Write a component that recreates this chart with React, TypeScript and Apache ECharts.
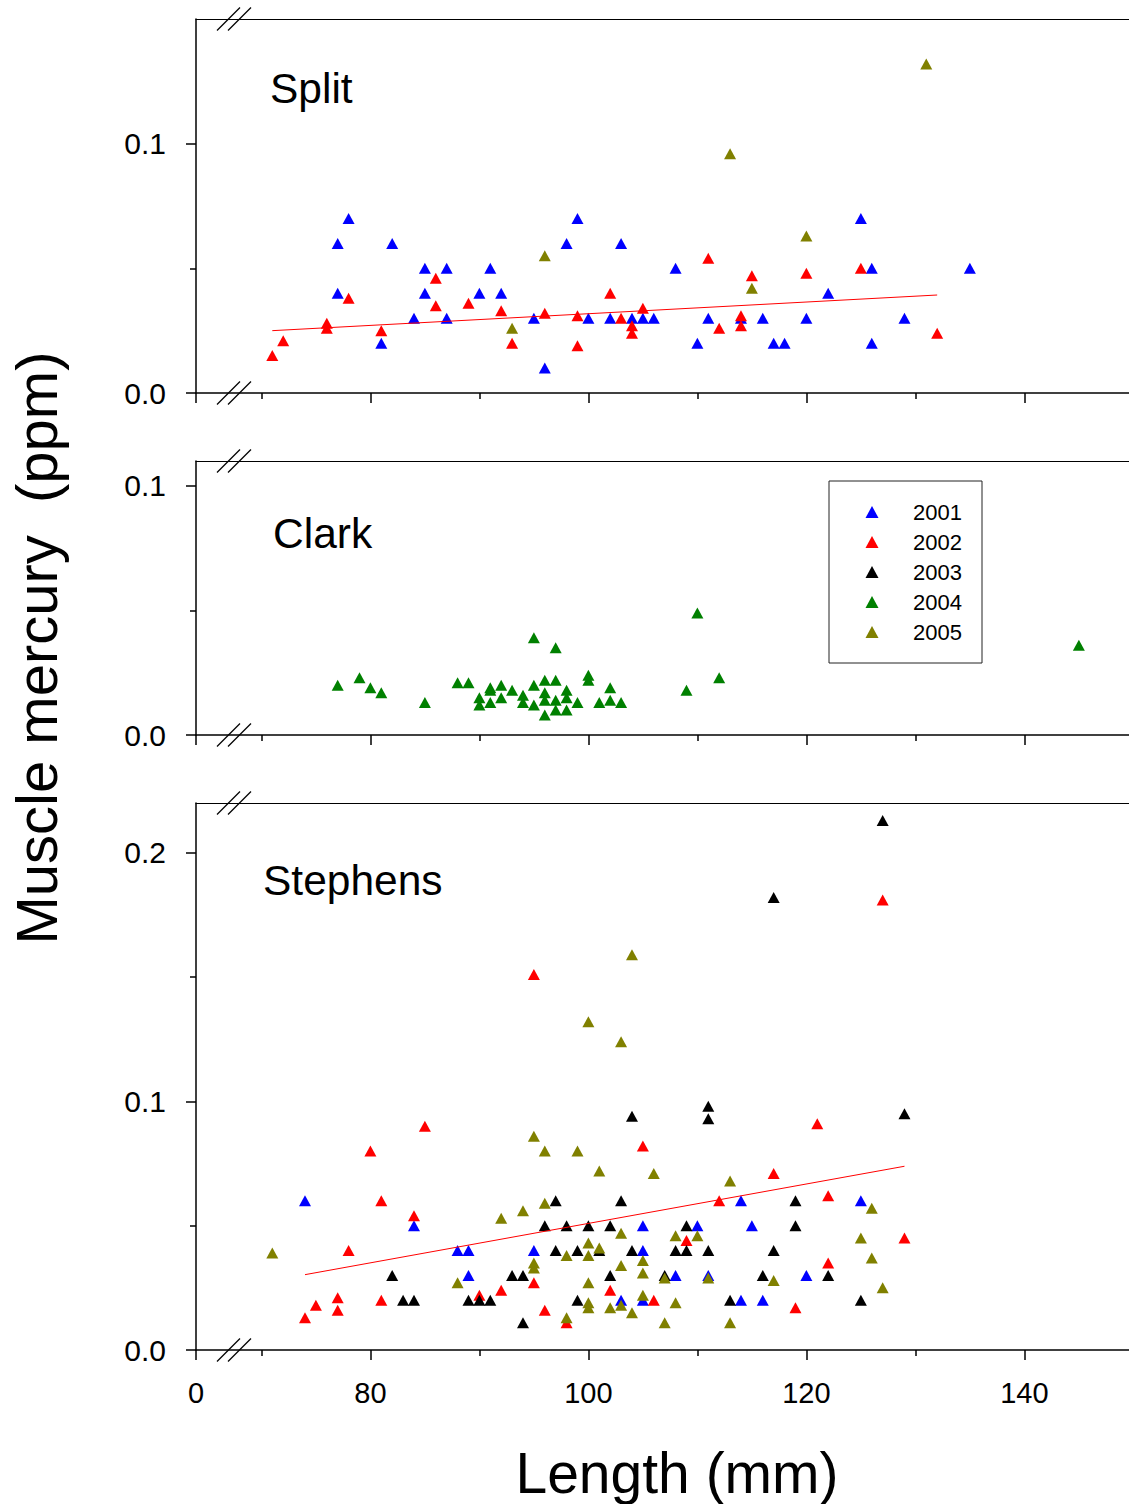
import React, { useEffect, useRef } from 'react';
import * as echarts from 'echarts';

const FONT = '"Liberation Sans", Arial, Helvetica, sans-serif';

const YEARS = ['2001', '2002', '2003', '2004', '2005'];
const YEAR_COLORS = ['#0000ff', '#ff0000', '#000000', '#008000', '#808000'];
const PANEL_NAMES = ['Split', 'Clark', 'Stephens'];

const X_MIN = 64;
const X_MAX = 149.6;
const X_MAJOR = [64, 80, 100, 120, 140];
const X_MINOR = [70, 90, 110, 130];
const X_LABELS = ['0', '80', '100', '120', '140'];

const Y_MAX = [0.15, 0.11, 0.22];
const Y_MAJOR = [[0, 0.1], [0, 0.1], [0, 0.1, 0.2]];
const Y_MINOR = [[0.05], [0.05], [0.05, 0.15]];

// ---- Split ----
const split2001 = [[77,0.06],[78,0.07],[77,0.04],[81,0.02],[82,0.06],[84,0.03],[85,0.05],[85,0.04],[87,0.05],[87,0.03],[90,0.04],[91,0.05],[92,0.04],[95,0.03],[96,0.01],[98,0.06],[99,0.07],[100,0.03],[102,0.03],[103,0.06],[104,0.03],[105,0.03],[106,0.03],[108,0.05],[110,0.02],[111,0.03],[114,0.03],[116,0.03],[117,0.02],[118,0.02],[120,0.03],[122,0.04],[125,0.07],[126,0.05],[126,0.02],[129,0.03],[135,0.05]];
const split2002 = [[71,0.015],[72,0.021],[76,0.028],[76,0.026],[78,0.038],[81,0.025],[86,0.046],[86,0.035],[89,0.036],[92,0.033],[93,0.02],[96,0.032],[99,0.031],[99,0.019],[102,0.04],[103,0.03],[104,0.027],[104,0.024],[105,0.034],[111,0.054],[112,0.026],[114,0.031],[114,0.027],[115,0.047],[120,0.048],[125,0.05],[132,0.024]];
const split2005 = [[93,0.026],[96,0.055],[113,0.096],[115,0.042],[120,0.063],[131,0.132]];
const splitFit = [[71,0.025],[132,0.0393]];

// ---- Clark ----
const clark2004 = [[77,0.02],[79,0.023],[80,0.019],[81,0.017],[85,0.013],[88,0.021],[89,0.021],[90,0.015],[90,0.012],[91,0.019],[91,0.018],[91,0.013],[92,0.02],[92,0.015],[93,0.018],[94,0.016],[94,0.013],[95,0.039],[95,0.02],[95,0.012],[96,0.022],[96,0.017],[96,0.014],[96,0.008],[97,0.035],[97,0.022],[97,0.014],[97,0.01],[98,0.018],[98,0.015],[98,0.01],[99,0.013],[100,0.024],[100,0.022],[101,0.013],[102,0.019],[102,0.014],[103,0.013],[109,0.018],[110,0.049],[112,0.023],[145,0.036]];

// ---- Stephens ----
const st2001 = [[74,0.06],[84,0.05],[88,0.04],[89,0.04],[89,0.03],[95,0.04],[103,0.02],[105,0.05],[105,0.04],[105,0.02],[108,0.03],[110,0.05],[111,0.03],[114,0.06],[114,0.02],[115,0.05],[116,0.02],[120,0.03],[125,0.06]];
const st2002 = [[74,0.013],[75,0.018],[77,0.021],[77,0.016],[78,0.04],[80,0.08],[81,0.06],[81,0.02],[84,0.054],[85,0.09],[90,0.022],[92,0.024],[95,0.151],[95,0.027],[96,0.016],[98,0.011],[102,0.024],[105,0.082],[106,0.02],[109,0.044],[112,0.06],[117,0.071],[119,0.017],[121,0.091],[122,0.062],[122,0.035],[127,0.181],[129,0.045]];
const st2003 = [[82,0.03],[83,0.02],[84,0.02],[89,0.02],[90,0.02],[91,0.02],[93,0.03],[94,0.03],[94,0.011],[96,0.05],[97,0.06],[97,0.04],[98,0.05],[99,0.04],[99,0.02],[100,0.05],[101,0.04],[102,0.05],[102,0.03],[103,0.06],[104,0.094],[104,0.04],[107,0.03],[108,0.04],[109,0.05],[109,0.04],[111,0.098],[111,0.093],[111,0.04],[113,0.02],[116,0.03],[117,0.182],[117,0.04],[119,0.06],[119,0.05],[122,0.03],[125,0.02],[127,0.213],[129,0.095]];
const st2005 = [[71,0.039],[88,0.027],[92,0.053],[94,0.056],[95,0.086],[95,0.035],[95,0.033],[96,0.08],[96,0.059],[98,0.038],[98,0.013],[99,0.08],[100,0.132],[100,0.043],[100,0.038],[100,0.027],[100,0.019],[100,0.017],[101,0.072],[101,0.041],[102,0.017],[103,0.124],[103,0.047],[103,0.034],[103,0.018],[104,0.159],[104,0.015],[105,0.036],[105,0.031],[105,0.022],[106,0.071],[107,0.029],[107,0.011],[108,0.046],[108,0.019],[110,0.046],[111,0.029],[113,0.068],[113,0.011],[117,0.028],[125,0.045],[126,0.057],[126,0.037],[127,0.025]];
const stephensFit = [[74,0.0303],[129,0.0739]];

const PANEL_SERIES: { year: string; data: number[][] }[][] = [
  [{ year: '2001', data: split2001 }, { year: '2002', data: split2002 }, { year: '2005', data: split2005 }],
  [{ year: '2004', data: clark2004 }],
  [{ year: '2001', data: st2001 }, { year: '2002', data: st2002 }, { year: '2003', data: st2003 }, { year: '2005', data: st2005 }],
];
const PANEL_FITS: (number[][] | null)[] = [splitFit, null, stephensFit];

const GRID_LEFT = 196;
const GRID_TOPS = [19, 461, 803];
const GRID_HEIGHTS = [374, 274, 547];

function buildOption() {
  const grid: any[] = [];
  const xAxis: any[] = [];
  const yAxis: any[] = [];
  const series: any[] = [];
  const graphic: any[] = [];

  PANEL_NAMES.forEach((name, i) => {
    grid.push({
      left: GRID_LEFT,
      right: 0,
      top: GRID_TOPS[i],
      height: GRID_HEIGHTS[i],
      containLabel: false,
      outerBoundsMode: 'none',
    });
    const isLast = i === PANEL_NAMES.length - 1;
    xAxis.push({
      type: 'value', gridIndex: i, position: 'bottom', min: X_MIN, max: X_MAX,
      axisLine: { show: true, onZero: false, lineStyle: { color: '#000', width: 1.5 } },
      axisTick: { show: true, length: 10, inside: false, customValues: X_MAJOR, lineStyle: { color: '#000', width: 1.5 } },
      axisLabel: {
        show: isLast, customValues: X_MAJOR, margin: 28, color: '#000', fontSize: 29, fontFamily: FONT,
        formatter: (v: number) => { const k = X_MAJOR.indexOf(v); return k >= 0 ? X_LABELS[k] : ''; },
      },
      splitLine: { show: false },
    });
    xAxis.push({
      type: 'value', gridIndex: i, position: 'bottom', min: X_MIN, max: X_MAX,
      axisLine: { show: false, onZero: false },
      axisTick: { show: true, length: 6, customValues: X_MINOR, lineStyle: { color: '#000', width: 1.5 } },
      axisLabel: { show: false },
      splitLine: { show: false },
    });
    xAxis.push({
      type: 'value', gridIndex: i, position: 'top', min: X_MIN, max: X_MAX,
      axisLine: { show: true, onZero: false, lineStyle: { color: '#000', width: 1.2 } },
      axisTick: { show: false },
      axisLabel: { show: false },
      splitLine: { show: false },
    });
    yAxis.push({
      type: 'value', gridIndex: i, position: 'left', min: 0, max: Y_MAX[i],
      axisLine: { show: true, onZero: false, lineStyle: { color: '#000', width: 1.5 } },
      axisTick: { show: true, length: 10, customValues: Y_MAJOR[i], lineStyle: { color: '#000', width: 1.5 } },
      axisLabel: {
        show: true, customValues: Y_MAJOR[i], margin: 30, color: '#000', fontSize: 30, fontFamily: FONT,
        formatter: (v: number) => v.toFixed(1),
      },
      splitLine: { show: false },
    });
    yAxis.push({
      type: 'value', gridIndex: i, position: 'left', min: 0, max: Y_MAX[i],
      axisLine: { show: false, onZero: false },
      axisTick: { show: true, length: 6, customValues: Y_MINOR[i], lineStyle: { color: '#000', width: 1.5 } },
      axisLabel: { show: false },
      splitLine: { show: false },
    });

    PANEL_SERIES[i].forEach((s) => {
      const c = YEAR_COLORS[YEARS.indexOf(s.year)];
      series.push({
        type: 'scatter', name: s.year, xAxisIndex: 3 * i, yAxisIndex: 2 * i,
        data: s.data, symbol: 'triangle', symbolSize: [12, 11],
        itemStyle: { color: c, opacity: 1 },
        emphasis: { disabled: true },
      });
    });
    const fit = PANEL_FITS[i];
    if (fit) {
      series.push({
        type: 'line', name: 'fit-' + name, xAxisIndex: 3 * i, yAxisIndex: 2 * i,
        data: fit, showSymbol: false, symbol: 'none', z: 5,
        lineStyle: { color: '#ff0000', width: 1 },
        emphasis: { disabled: true },
      });
    }

    const top = GRID_TOPS[i];
    const bottom = GRID_TOPS[i] + GRID_HEIGHTS[i];
    [top, bottom].forEach((c) => {
      [0, 11].forEach((dx) => {
        graphic.push({
          type: 'line', z: 20,
          shape: { x1: 217 + dx, y1: c + 11.5, x2: 240 + dx, y2: c - 11.5 },
          style: { stroke: '#000', lineWidth: 1.2 },
        });
      });
    });
  });

  const labelPos = [[270, 88], [273, 533], [263, 880]];
  PANEL_NAMES.forEach((name, i) => {
    graphic.push({
      type: 'text', x: labelPos[i][0], y: labelPos[i][1], z: 20,
      style: {
        text: name, font: `42.5px ${FONT}`, fill: '#000',
        align: 'left', verticalAlign: 'middle', textAlign: 'left', textVerticalAlign: 'middle',
      },
    });
  });

  graphic.push({
    type: 'text', x: 36, y: 648, rotation: Math.PI / 2, z: 20,
    style: {
      text: 'Muscle mercury  (ppm)', font: `58px ${FONT}`, fill: '#000',
      align: 'center', verticalAlign: 'middle', textAlign: 'center', textVerticalAlign: 'middle',
    },
  });
  graphic.push({
    type: 'text', x: 677, y: 1473, z: 20,
    style: {
      text: 'Length (mm)', font: `57px ${FONT}`, fill: '#000',
      align: 'center', verticalAlign: 'middle', textAlign: 'center', textVerticalAlign: 'middle',
    },
  });

  graphic.push({
    type: 'rect', z: 15,
    shape: { x: 829, y: 481, width: 153, height: 182 },
    style: { fill: '#fff', stroke: '#222', lineWidth: 1 },
  });

  return {
    animation: false,
    backgroundColor: '#fff',
    grid,
    xAxis,
    yAxis,
    series,
    graphic,
    legend: {
      show: true, data: YEARS, orient: 'vertical', left: 865.5, top: 501, padding: 0,
      itemWidth: 13, itemHeight: 12, itemGap: 8, icon: 'triangle',
      selectedMode: false, z: 30,
      textStyle: { color: '#000', fontSize: 22, lineHeight: 22, fontFamily: FONT, padding: [0, 0, 0, 29.5] },
    },
  };
}

export default function App() {
  const ref = useRef<HTMLDivElement>(null);
  useEffect(() => {
    if (!ref.current) return;
    const chart = echarts.init(ref.current, undefined, { renderer: 'svg' });
    chart.setOption(buildOption() as any);
    return () => chart.dispose();
  }, []);
  return (
    <div
      ref={ref}
      style={{ position: 'absolute', left: 0, top: 0, width: 1129, height: 1504, background: '#fff' }}
    />
  );
}
